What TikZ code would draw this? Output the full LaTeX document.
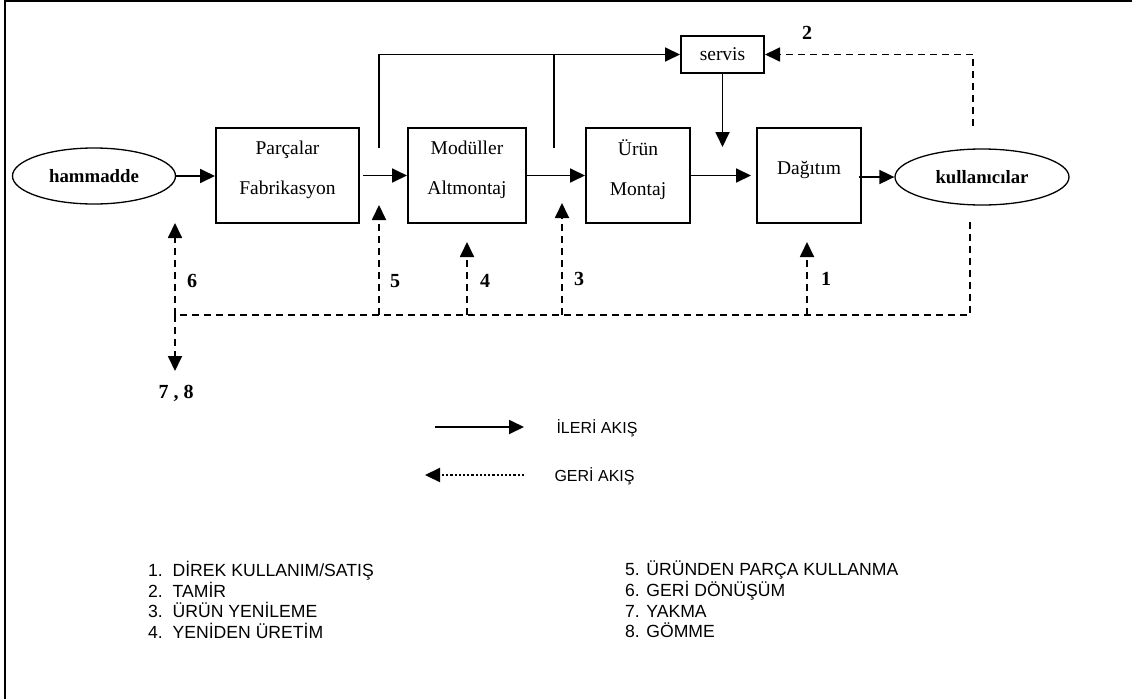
\documentclass[tikz,border=0pt]{standalone}
\usepackage{fontspec}
\setmainfont{Liberation Serif}
\newfontfamily\listfont{Liberation Sans}
\usepackage{tikz}
\usetikzlibrary{arrows.meta}
\usetikzlibrary{positioning}
\usetikzlibrary{arrows,shapes}
\usetikzlibrary{calc}
\tikzstyle{blok}=[draw,line width=2pt,rectangle,minimum width=104pt,minimum height=95pt,inner sep=0pt]
\tikzstyle{bulut}=[draw,line width=1.3pt,ellipse,minimum width=163pt,minimum height=56pt,inner sep=0pt]
\tikzstyle{ileri}=[line width=1.8pt,-{Triangle[length=15pt,width=14pt]}]
\tikzstyle{geri}=[line width=1.8pt,dash pattern=on 7pt off 5pt,-{Triangle[length=15pt,width=14pt]}]
\tikzstyle{sayi}=[font=\fontsize{20}{22}\selectfont\bfseries]
\tikzstyle{liste}=[anchor=north west,align=left,inner sep=0pt,font=\listfont\fontsize{17.6}{20.6}\selectfont]

\begin{document}
\begin{tikzpicture}[x=1pt,y=-1pt,font=\fontsize{19.5}{23}\selectfont]
\useasboundingbox (0,0) rectangle (1132,699);
\draw [line width=2pt] (5,699) -- (5,1) -- (1132,1);

\node [bulut] (ham) at (94,176) {\fontsize{18.8}{22}\selectfont\bfseries hammadde};
\node [blok,minimum width=143pt] (parca) at (287.5,175.5) {};
\node [blok,minimum width=118pt] (modul) at (467,175.5) {};
\node [blok] (urun) at (638,175.5) {};
\node [blok] (dagitim) at (809,175.5) {};
\node [bulut,minimum width=174pt] (kull) at (982,177) {\fontsize{18.8}{22}\selectfont\bfseries kullanıcılar};
\node [draw,line width=2pt,minimum width=83pt,minimum height=37pt,inner sep=0pt] (servis) at (722.5,54.5) {servis};

\node at (parca) [yshift=6pt,align=center] (parcayazi) {Parçalar\\[17pt]Fabrikasyon};
\node at (modul) [yshift=6pt,align=center] (modulyazi) {Modüller\\[17pt]Altmontaj};
\node at (urun) [yshift=6pt,align=center] (urunyazi) {Ürün\\[17pt]Montaj};
\node at (dagitim) [yshift=6pt] (dagitimyazi) {Dağıtım};

% ileri akis
\draw [ileri] (ham.east) -- (ham.east -| parca.west);
\draw [ileri] ([xshift=3pt]parca.east) -- (modul.west);
\draw [ileri] (modul.east) -- (urun.west);
\draw [ileri,shorten >=5pt] (urun.east) -- (dagitim.west);
\draw [ileri] ([xshift=-3pt]dagitim.east |- kull.west) -- (kull.west);

\coordinate (p1) at (379,148);
\coordinate (p2) at (554,148);
\coordinate (s1) at (722.5,147);
\draw [ileri] (p1) |- (servis.west);
\draw [line width=1.8pt] (p2) -- (p2 |- servis.west);
\draw [ileri] (servis) -- (s1);

% geri akis
\coordinate (k2) at (973,126);
\coordinate (k1) at (970,222);
\coordinate (g6) at (175,315);
\coordinate (a6) at (175,223);
\coordinate (a78) at (175,371);
\coordinate (a5) at (379,205);
\coordinate (a4) at (467,242);
\coordinate (a3) at (562,203);
\coordinate (a1) at (807,242);
\draw [geri] (k2) |- (servis.east);
\draw [geri,-] (k1) |- (g6);
\draw [geri] (g6) -- (a6);
\draw [geri] (g6) -- (a78);
\draw [geri] (a5 |- g6) -- (a5);
\draw [geri] (a4 |- g6) -- (a4);
\draw [geri] (a3 |- g6) -- (a3);
\draw [geri] (a1 |- g6) -- (a1);

\node [sayi] (n2) at (807,33) {2};
\node [sayi] (n6) at (192,281) {6};
\node [sayi] (n5) at (395,281) {5};
\node [sayi] (n4) at (485,281) {4};
\node [sayi] (n3) at (579,279) {3};
\node [sayi] (n1) at (826,279) {1};
\node [sayi] (n78) at (176,393) {7 , 8};

% gosterim
\coordinate (l1) at (435,427);
\coordinate (l2) at (524,427);
\coordinate (l3) at (524,475);
\coordinate (l4) at (425,475);
\draw [ileri] (l1) -- (l2);
\draw [line width=2.2pt,dotted,-{Triangle[length=15pt,width=14pt]}] (l3) -- (l4);
\node [anchor=west,font=\listfont\fontsize{16}{18}\selectfont] (ileriyazi) at (553,428) {İLERİ AKIŞ};
\node [anchor=west,font=\listfont\fontsize{16}{18}\selectfont] (geriyazi) at (551,476) {GERİ AKIŞ};

\node [liste] (sol) at (148,561) {1.\ \ DİREK KULLANIM/SATIŞ\\2.\ \ TAMİR\\3.\ \ ÜRÜN YENİLEME\\4.\ \ YENİDEN ÜRETİM};
\node [liste] (sag) at (625,561) {5. ÜRÜNDEN PARÇA KULLANMA\\6. GERİ DÖNÜŞÜM\\7. YAKMA\\8. GÖMME};

\end{tikzpicture}
\end{document}
